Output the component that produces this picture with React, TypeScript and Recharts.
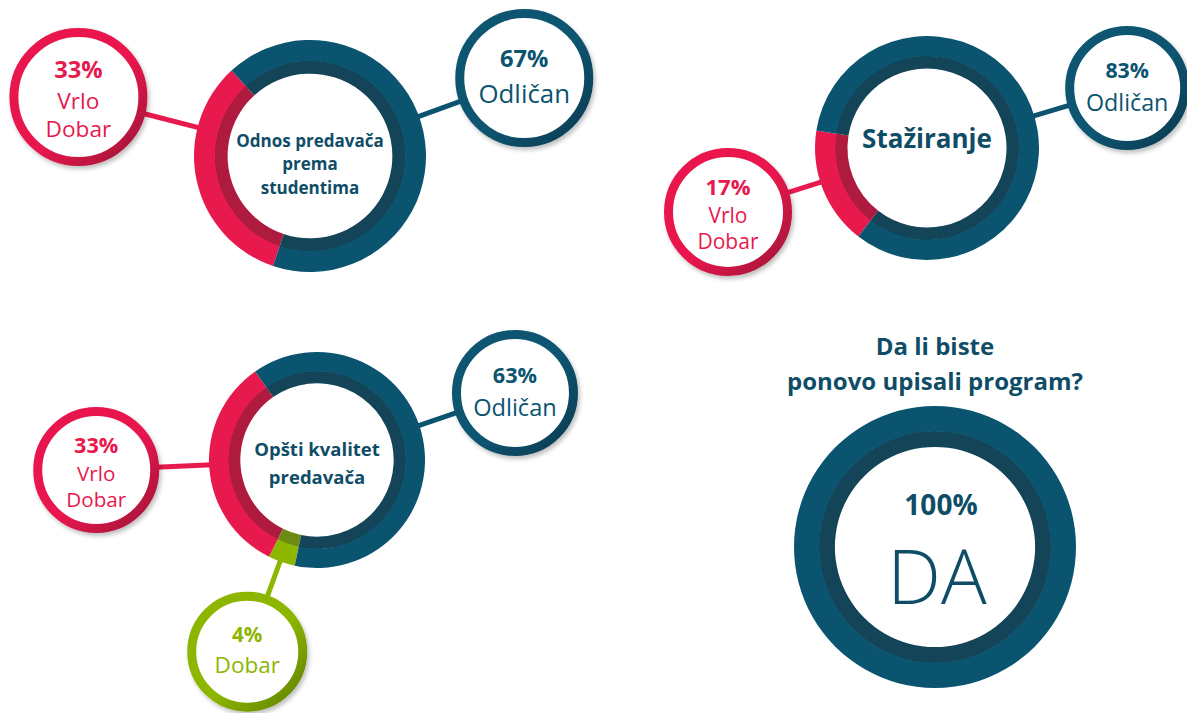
import React from 'react';
import { PieChart, Pie, Cell } from 'recharts';

// colours: [ring, inner ring]
const palette: Record<string, [string, string]> = {
    'Vrlo Dobar': ['#E8194D', '#AE1B3F'],
    'Odličan': ['#0B5470', '#134457'],
    'Dobar': ['#8DB600', '#6B8B12'],
    'DA': ['#0B5470', '#134457'],
};
const calloutDeep: Record<string, string> = {
    'Vrlo Dobar': '#9C0F35',
    'Odličan': '#053A4F',
    'Dobar': '#5F7F00',
    'DA': '#053A4F',
};
const INK = '#0F4D67';
const FONT = "'Open Sans', 'Noto Sans', sans-serif";

const odnosNames = ['Vrlo Dobar', 'Odličan'];
const odnosValues = [33, 67];
const odnosTitle = ['Odnos predavača', 'prema', 'studentima'];

const stazNames = ['Vrlo Dobar', 'Odličan'];
const stazValues = [17, 83];
const stazTitle = ['Stažiranje'];

const opstiNames = ['Vrlo Dobar', 'Dobar', 'Odličan'];
const opstiValues = [33, 4, 63];
const opstiTitle = ['Opšti kvalitet', 'predavača'];

const upisNames = ['DA'];
const upisValues = [100];
const upisTitle = ['Da li biste', 'ponovo upisali program?'];

type Spot = { angle: number; dist: number; r: number };
type Layout = {
    cx: number;
    cy: number;
    r: number;
    start: number;
    spots: Spot[];
    titleSize: number;
    titleDy: number[];
};

const odnosLayout: Layout = {
    cx: 310, cy: 156, r: 116, start: 132.6,
    spots: [{ angle: 165.7, dist: 239, r: 69 }, { angle: 20, dist: 228, r: 69 }],
    titleSize: 17, titleDy: [-16, 7, 31],
};
const stazLayout: Layout = {
    cx: 927, cy: 148, r: 112, start: 171,
    spots: [{ angle: 197.8, dist: 209, r: 64 }, { angle: 16.7, dist: 209, r: 62 }],
    titleSize: 26, titleDy: [-10],
};
const opstiLayout: Layout = {
    cx: 317, cy: 460, r: 108, start: 124.9,
    spots: [
        { angle: 182.6, dist: 221, r: 63 },
        { angle: 250, dist: 204, r: 60 },
        { angle: 18.7, dist: 209, r: 63 },
    ],
    titleSize: 18.5, titleDy: [-12, 16],
};
const upisLayout: Layout = {
    cx: 935, cy: 547, r: 141, start: 90,
    spots: [],
    titleSize: 24, titleDy: [-202, -167],
};

const rows = (names: string[], values: number[]) =>
    names.map((name, i) => ({ name, value: values[i] }));

const txt = (
    key: string,
    x: number,
    y: number,
    size: number,
    weight: number,
    fill: string,
    body: string
) => (
    <text
        key={key}
        x={x}
        y={y}
        textAnchor="middle"
        dominantBaseline="central"
        fontFamily={FONT}
        fontSize={size}
        fontWeight={weight}
        fill={fill}
    >
        {body}
    </text>
);

// bubble with the percentage, tied to the ring by a short stick
const callout = (spots: Spot[], tag: string) => (p: any) => {
    const s = spots[p.index];
    if (!s) return null;
    const name: string = p.payload?.name ?? p.name;
    const value: number = p.payload?.value ?? p.value;
    const [bright] = palette[name];
    const deep = calloutDeep[name];
    const rad = (s.angle * Math.PI) / 180;
    const ux = Math.cos(rad);
    const uy = -Math.sin(rad);
    const bx = p.cx + ux * s.dist;
    const by = p.cy + uy * s.dist;
    const k = s.r / 64;
    const lines = name.split(' ');
    const id = `${tag}-${p.index}`;
    return (
        <g key={id}>
            <defs>
                <linearGradient id={`g-${id}`} x1="0" y1="0" x2="1" y2="1">
                    <stop offset="0%" stopColor={bright} />
                    <stop offset="55%" stopColor={bright} />
                    <stop offset="100%" stopColor={deep} />
                </linearGradient>
                <filter id={`f-${id}`} x="-20%" y="-20%" width="140%" height="140%">
                    <feDropShadow dx="2" dy="3" stdDeviation="2" floodColor="#000" floodOpacity="0.25" />
                </filter>
            </defs>
            <line
                x1={p.cx + ux * (p.outerRadius - 3)}
                y1={p.cy + uy * (p.outerRadius - 3)}
                x2={bx - ux * (s.r - 3)}
                y2={by - uy * (s.r - 3)}
                stroke={bright}
                strokeWidth={5}
            />
            <circle
                cx={bx}
                cy={by}
                r={s.r - 4.5}
                fill="#fff"
                stroke={`url(#g-${id})`}
                strokeWidth={9}
                filter={`url(#f-${id})`}
            />
            {lines.length > 1 ? (
                <>
                    {txt('p', bx, by - 26 * k, 22 * k, 700, bright, `${value}%`)}
                    {txt('a', bx, by + 3 * k, 21 * k, 400, bright, lines[0])}
                    {txt('b', bx, by + 29 * k, 21 * k, 400, bright, lines[1])}
                </>
            ) : (
                <>
                    {txt('p', bx, by - 19 * k, 22 * k, 700, bright, `${value}%`)}
                    {txt('a', bx, by + 14 * k, 24 * k, 400, bright, lines[0])}
                </>
            )}
        </g>
    );
};

const donut = (
    tag: string,
    names: string[],
    values: number[],
    lay: Layout,
    title: string[],
    extra?: (cx: number, cy: number) => React.ReactNode
) => {
    const data = rows(names, values);
    const inner = (p: any) => {
        if (p.index !== 0) return null;
        return (
            <g key={`${tag}-title`}>
                {title.map((t, i) =>
                    txt(`t${i}`, p.cx, p.cy + lay.titleDy[i], lay.titleSize, 700, INK, t)
                )}
                {extra ? extra(p.cx, p.cy) : null}
            </g>
        );
    };
    return [
        <Pie
            key={`${tag}-in`}
            data={data}
            dataKey="value"
            nameKey="name"
            cx={lay.cx}
            cy={lay.cy}
            innerRadius={lay.r * 0.71}
            outerRadius={lay.r * 0.82 + 0.5}
            startAngle={lay.start}
            endAngle={lay.start + 360}
            stroke="none"
            label={inner}
            labelLine={false}
            isAnimationActive={false}
        >
            {data.map((d) => (
                <Cell key={d.name} fill={palette[d.name][1]} />
            ))}
        </Pie>,
        <Pie
            key={`${tag}-out`}
            data={data}
            dataKey="value"
            nameKey="name"
            cx={lay.cx}
            cy={lay.cy}
            innerRadius={lay.r * 0.82}
            outerRadius={lay.r}
            startAngle={lay.start}
            endAngle={lay.start + 360}
            stroke="none"
            label={callout(lay.spots, tag)}
            labelLine={false}
            isAnimationActive={false}
        >
            {data.map((d) => (
                <Cell key={d.name} fill={palette[d.name][0]} />
            ))}
        </Pie>,
    ];
};

const App = () => {
    const da = (cx: number, cy: number) => (
        <>
            {txt('pct', cx + 6, cy - 43, 28, 700, INK, `${upisValues[0]}%`)}
            {txt('da', cx + 2, cy + 27, 76, 300, INK, upisNames[0])}
        </>
    );
    return (
        <div style={{ width: 1187, height: 713, background: '#fff', fontFamily: FONT }}>
            <style>{'body{margin:0}'}</style>
            <PieChart width={1187} height={713} margin={{ top: 0, right: 0, bottom: 0, left: 0 }}>
                {donut('odnos', odnosNames, odnosValues, odnosLayout, odnosTitle)}
                {donut('staz', stazNames, stazValues, stazLayout, stazTitle)}
                {donut('opsti', opstiNames, opstiValues, opstiLayout, opstiTitle)}
                {donut('upis', upisNames, upisValues, upisLayout, upisTitle, da)}
            </PieChart>
        </div>
    );
};

export default App;
